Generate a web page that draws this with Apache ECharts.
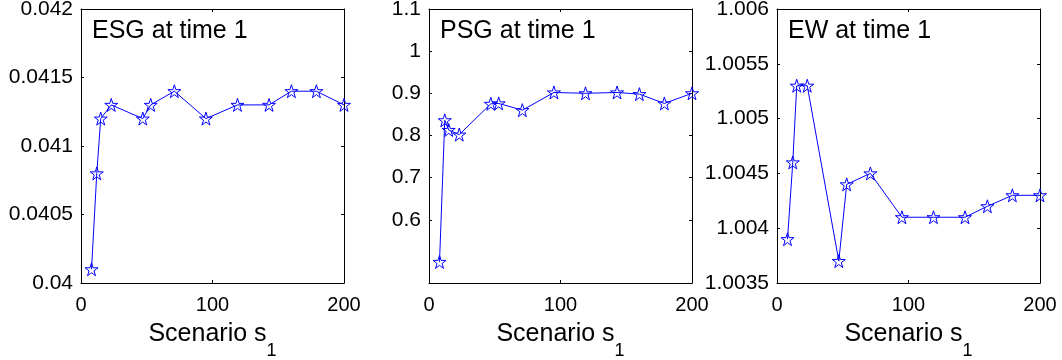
<!DOCTYPE html>
<html>
<head>
<meta charset="utf-8">
<script src="https://cdn.jsdelivr.net/npm/echarts@6/dist/echarts.min.js"></script>
<style>
  html, body { margin: 0; padding: 0; background: #fff; }
  #chart { width: 1062px; height: 360px; }
</style>
</head>
<body>
<div id="chart"></div>
<script>
// scenario sizes (shared x values)
const scenarios = [8, 12, 15, 23, 47, 53, 71, 95, 119, 143, 160, 179, 200];

const esgValues = [0.0401, 0.0408, 0.0412, 0.0413, 0.0412, 0.0413, 0.0414, 0.0412, 0.0413, 0.0413, 0.0414, 0.0414, 0.0413];
const psgValues = [0.50, 0.836, 0.813, 0.802, 0.875, 0.876, 0.860, 0.902, 0.900, 0.902, 0.898, 0.876, 0.900];
const ewValues = [1.0039, 1.0046, 1.0053, 1.0053, 1.0037, 1.0044, 1.0045, 1.0041, 1.0041, 1.0041, 1.0042, 1.0043, 1.0043];

const xTicks = [0, 100, 200];
const esgTicks = [0.04, 0.0405, 0.041, 0.0415, 0.042];
const psgTicks = [0.6, 0.7, 0.8, 0.9, 1, 1.1];
const ewTicks = [1.0035, 1.004, 1.0045, 1.005, 1.0055, 1.006];

const panelTitles = ['ESG at time 1', 'PSG at time 1', 'EW at time 1'];

const FONT = 'Liberation Sans, Arial, Helvetica, sans-serif';
const BLUE = '#0000ff';
const STAR = 'path://M0,-10L2.245,-3.09L9.511,-3.09L3.633,1.18L5.878,8.09L0,3.82L-5.878,8.09L-3.633,1.18L-9.511,-3.09L-2.245,-3.09Z';

const panels = [
  { values: esgValues, ticks: esgTicks, min: 0.04, max: 0.042 },
  { values: psgValues, ticks: psgTicks, min: 0.45, max: 1.1 },
  { values: ewValues, ticks: ewTicks, min: 1.0035, max: 1.006 }
];

const gridLefts = [81, 429, 777];

let chart = echarts.init(document.getElementById('chart'));

const grid = [], xAxis = [], yAxis = [], series = [], title = [];

panels.forEach((p, i) => {
  // fixed box, don't let echarts shrink it to fit labels
  grid.push({ left: gridLefts[i], top: 9, width: 263, height: 274, outerBoundsMode: 'none', containLabel: false });

  title.push({
    text: panelTitles[i],
    left: gridLefts[i] + 11,
    top: 19,
    padding: 0,
    textStyle: { fontFamily: FONT, fontSize: 25, fontWeight: 'normal', color: '#000' }
  });

  const lineStyle = { color: '#000', width: 1 };

  // bottom x axis with labels
  xAxis.push({
    type: 'value', gridIndex: i, position: 'bottom', min: 0, max: 200,
    axisLine: { show: true, onZero: false, lineStyle },
    axisTick: { show: true, inside: true, length: 3, customValues: xTicks, lineStyle },
    axisLabel: { customValues: xTicks, margin: 12, fontFamily: FONT, fontSize: 20, color: '#000' },
    splitLine: { show: false },
    name: '{m|Scenario s}{s|1}',
    nameLocation: 'middle',
    nameGap: 39,
    nameTextStyle: {
      rich: {
        m: { fontFamily: FONT, fontSize: 25, lineHeight: 26, verticalAlign: 'top', color: '#000' },
        s: { fontFamily: FONT, fontSize: 18, lineHeight: 58, verticalAlign: 'middle', color: '#000' }
      }
    }
  });
  // top mirror axis
  xAxis.push({
    type: 'value', gridIndex: i, position: 'top', min: 0, max: 200,
    axisLine: { show: true, onZero: false, lineStyle },
    axisTick: { show: true, inside: true, length: 3, customValues: xTicks, lineStyle },
    axisLabel: { show: false },
    splitLine: { show: false }
  });

  yAxis.push({
    type: 'value', gridIndex: i, position: 'left', min: p.min, max: p.max,
    axisLine: { show: true, onZero: false, lineStyle },
    axisTick: { show: true, inside: true, length: 3, customValues: p.ticks, lineStyle },
    axisLabel: { customValues: p.ticks, margin: 8, fontFamily: FONT, fontSize: 21, color: '#000' },
    splitLine: { show: false }
  });
  yAxis.push({
    type: 'value', gridIndex: i, position: 'right', min: p.min, max: p.max,
    axisLine: { show: true, onZero: false, lineStyle },
    axisTick: { show: true, inside: true, length: 3, customValues: p.ticks, lineStyle },
    axisLabel: { show: false },
    splitLine: { show: false }
  });

  series.push({
    type: 'line',
    xAxisIndex: i * 2,
    yAxisIndex: i * 2,
    data: scenarios.map((x, k) => [x, p.values[k]]),
    symbol: STAR,
    symbolSize: 13,
    showAllSymbol: true,
    clip: false,
    lineStyle: { color: BLUE, width: 1 },
    itemStyle: { color: 'rgba(0,0,0,0)', borderColor: BLUE, borderWidth: 1 },
    animation: false
  });
});

chart.setOption({
  animation: false,
  title: title,
  grid: grid,
  xAxis: xAxis,
  yAxis: yAxis,
  series: series
});
</script>
</body>
</html>
